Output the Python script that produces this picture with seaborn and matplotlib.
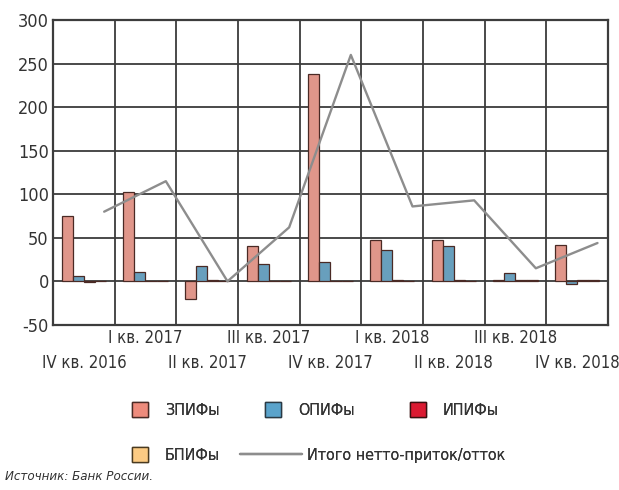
import numpy as np
import pandas as pd
import matplotlib
matplotlib.use("Agg")
import matplotlib.pyplot as plt
from matplotlib import font_manager
import seaborn as sns
from matplotlib.patches import Patch
from matplotlib.lines import Line2D

quarters = ["IV кв. 2016", "I кв. 2017", "II кв. 2017", "III кв. 2017", "IV кв. 2017",
            "I кв. 2018", "II кв. 2018", "III кв. 2018", "IV кв. 2018"]
zpif = [75, 103, -20, 40, 238, 48, 48, 2, 42]
opif = [6, 11, 18, 20, 22, 36, 40, 10, -3]
ipif = [-1, 0, 1, 0, 0.5, 1, 2, 1, 1]
bpif = [0, 0, 0, 0, 0, 0, 0, 1, 1]
total = [80, 115, 0, 62, 260, 86, 93, 15, 44]
series_names = ["ЗПИФы", "ОПИФы", "ИПИФы", "БПИФы"]
total_name = "Итого нетто-приток/отток"
yticks = [-50, 0, 50, 100, 150, 200, 250, 300]

colors = {"ЗПИФы": "#EE8B7C", "ОПИФы": "#5AA3CB", "ИПИФы": "#DA1A31", "БПИФы": "#FCCB83"}
line_color = "#8d8d8d"
grid_color = "#3c3c3c"
text_color = "#333333"

sns.set_theme(style="white")

# choose a narrow font if one is installed
ttf = font_manager.fontManager.ttflist
names = {f.name for f in ttf}
stretch = "normal"
if "Liberation Sans Narrow" in names:
    fam = ["Liberation Sans Narrow", "DejaVu Sans"]
    fs = 13.0
elif any(f.name == "DejaVu Sans" and f.stretch in ("condensed", "semi-condensed") for f in ttf):
    fam = ["DejaVu Sans"]
    stretch = "condensed"
    fs = 12.0
elif any(f.name == "Noto Sans" and f.stretch in ("condensed", "semi-condensed", "extra-condensed") for f in ttf):
    fam = ["Noto Sans", "DejaVu Sans"]
    stretch = "condensed"
    fs = 12.0
else:
    fam = ["Roboto", "DejaVu Sans"]
    fs = 11.0
plt.rcParams["font.family"] = fam
plt.rcParams["font.stretch"] = stretch
fs_y = fs + 1.0
fs_leg = fs - 0.5

rows = []
for name, vals in zip(series_names, [zpif, opif, ipif, bpif]):
    for q, v in zip(quarters, vals):
        rows.append({"quarter": q, "fund": name, "value": v})
df = pd.DataFrame(rows)

fig = plt.figure(figsize=(6.19, 4.90), dpi=100)
ax = fig.add_axes([0.0856, 0.337, 0.8966, 0.622])

sns.barplot(data=df, x="quarter", y="value", hue="fund", order=quarters,
            hue_order=series_names, palette=colors, width=0.72,
            edgecolor="#4a2a25", linewidth=0.9, legend=False, ax=ax, zorder=3)

xpos = np.arange(len(quarters)) + 0.33
sns.lineplot(x=xpos, y=total, color=line_color, linewidth=1.7, ax=ax, zorder=4)

ax.set_xlim(-0.5, len(quarters) - 0.5)
ax.set_ylim(-50, 300)
ax.set_yticks(yticks)
ax.set_yticklabels([str(t) for t in yticks], fontsize=fs_y, color=text_color)
for y in yticks:
    ax.axhline(y, color=grid_color, linewidth=1.3, zorder=1)
for x in np.arange(len(quarters) - 1) + 0.5:
    ax.axvline(x, color=grid_color, linewidth=1.3, zorder=1)

idx = np.arange(len(quarters))
odd = idx[1::2]
even = idx[0::2]
ax.set_xticks(odd)
ax.set_xticklabels([quarters[i] for i in odd], fontsize=fs, color=text_color)
ax.set_xticks(even, minor=True)
ax.set_xticklabels([quarters[i] for i in even], minor=True, fontsize=fs, color=text_color)
ax.tick_params(axis="both", which="both", length=0)
ax.tick_params(axis="x", which="major", pad=3)
ax.tick_params(axis="x", which="minor", pad=21)
ax.tick_params(axis="y", pad=3)
ax.set_xlabel("")
ax.set_ylabel("")
for s in ax.spines.values():
    s.set_color(grid_color)
    s.set_linewidth(1.6)
    s.set_visible(True)

h_z = Patch(facecolor=colors["ЗПИФы"], edgecolor="#4a2a25", linewidth=1)
h_o = Patch(facecolor=colors["ОПИФы"], edgecolor="#2a3a45", linewidth=1)
h_i = Patch(facecolor=colors["ИПИФы"], edgecolor="#3a1010", linewidth=1)
h_b = Patch(facecolor=colors["БПИФы"], edgecolor="#4a3a20", linewidth=1)
h_t = Line2D([0], [0], color=line_color, linewidth=1.7)

W, H = 619.0, 490.0
fs_px = fs_leg * 100 / 72.0
entries = [
    (h_z, series_names[0], 132, 410, 16, 1.05),
    (h_o, series_names[1], 265, 410, 16, 1.05),
    (h_i, series_names[2], 410, 410, 16, 1.05),
    (h_b, series_names[3], 132, 455, 16, 1.05),
    (h_t, total_name, 240, 455, 62, 0.3),
]
for h, lab, xp, yp, hl, tp in entries:
    lg = fig.legend([h], [lab], loc="center left", bbox_to_anchor=(xp / W, 1 - yp / H),
                    frameon=False, fontsize=fs_leg, handlelength=hl / fs_px,
                    handleheight=16 / fs_px, handletextpad=tp, borderpad=0,
                    borderaxespad=0, labelcolor=text_color)
    fig.add_artist(lg)

fig.text(0.008, 0.02, "Источник: Банк России.", fontsize=9.5, style="italic",
         color=text_color)

fig.savefig("out.png", dpi=100)
